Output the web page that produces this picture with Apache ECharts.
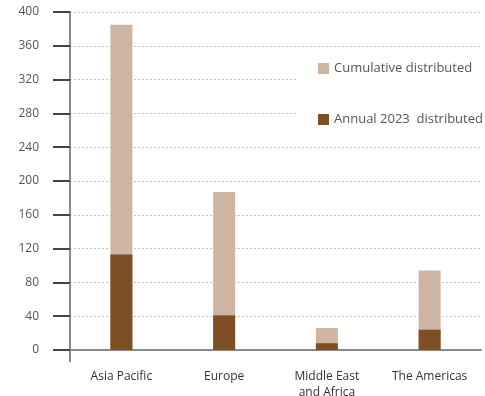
<!DOCTYPE html>
<html>
<head>
<meta charset="utf-8">
<script src="https://cdn.jsdelivr.net/npm/echarts@6/dist/echarts.min.js"></script>
<style>
  html, body { margin: 0; padding: 0; background: #fff; }
  #chart { width: 485px; height: 396px; }
</style>
</head>
<body>
<div id="chart"></div>
<script>
// Distribution by region
const regions = ['Asia Pacific', 'Europe', 'Middle East\nand Africa', 'The Americas'];
const cumulativeDistributed = [385, 187, 26, 94];
const annual2023Distributed = [113, 41, 8, 24];
const seriesNames = ['Cumulative distributed', 'Annual 2023  distributed'];

const chart = echarts.init(document.getElementById('chart'));
const fontFamily = '"Open Sans", "Noto Sans", sans-serif';
const gridLeft = 70;

chart.setOption({
  animation: false,
  backgroundColor: '#ffffff',
  textStyle: { fontFamily: fontFamily },
  grid: {
    left: gridLeft, right: 4, top: 12, bottom: 46,
    containLabel: false,
    outerBoundsMode: 'none'
  },
  legend: {
    orient: 'vertical',
    left: 296,
    top: 47,
    padding: [15, 6, 20, 22],
    itemGap: 38,
    itemWidth: 11,
    itemHeight: 11,
    backgroundColor: '#ffffff',
    icon: 'rect',
    data: seriesNames,
    textStyle: { color: '#555555', fontSize: 13, fontFamily: fontFamily }
  },
  xAxis: {
    type: 'category',
    data: regions,
    axisLine: { show: true, lineStyle: { color: '#8a8a8a', width: 2 } },
    axisTick: { show: false },
    axisLabel: { color: '#333333', fontSize: 12, margin: 19, lineHeight: 16 }
  },
  yAxis: {
    type: 'value',
    min: 0,
    max: 400,
    interval: 40,
    axisLine: { show: true, lineStyle: { color: '#8a8a8a', width: 2 } },
    axisTick: { show: true, length: 17, lineStyle: { color: '#444444', width: 2 } },
    axisLabel: { color: '#555555', fontSize: 12, margin: 31 },
    splitLine: { show: true, lineStyle: { color: '#c4c4c4', width: 1, type: [2, 2] } }
  },
  series: [
    {
      name: seriesNames[0],
      type: 'bar',
      barWidth: 22,
      barGap: '-100%',
      itemStyle: { color: '#cdb5a2' },
      data: cumulativeDistributed
    },
    {
      name: seriesNames[1],
      type: 'bar',
      barWidth: 22,
      barGap: '-100%',
      itemStyle: { color: '#7e4f24' },
      data: annual2023Distributed
    }
  ]
});

// Extend the vertical axis a little below the zero line
const zeroY = chart.convertToPixel({ yAxisIndex: 0 }, 0);
chart.setOption({
  graphic: [{
    type: 'line',
    shape: { x1: gridLeft, y1: zeroY, x2: gridLeft, y2: zeroY + 12 },
    style: { stroke: '#8a8a8a', lineWidth: 2 },
    silent: true
  }]
});
</script>
</body>
</html>
